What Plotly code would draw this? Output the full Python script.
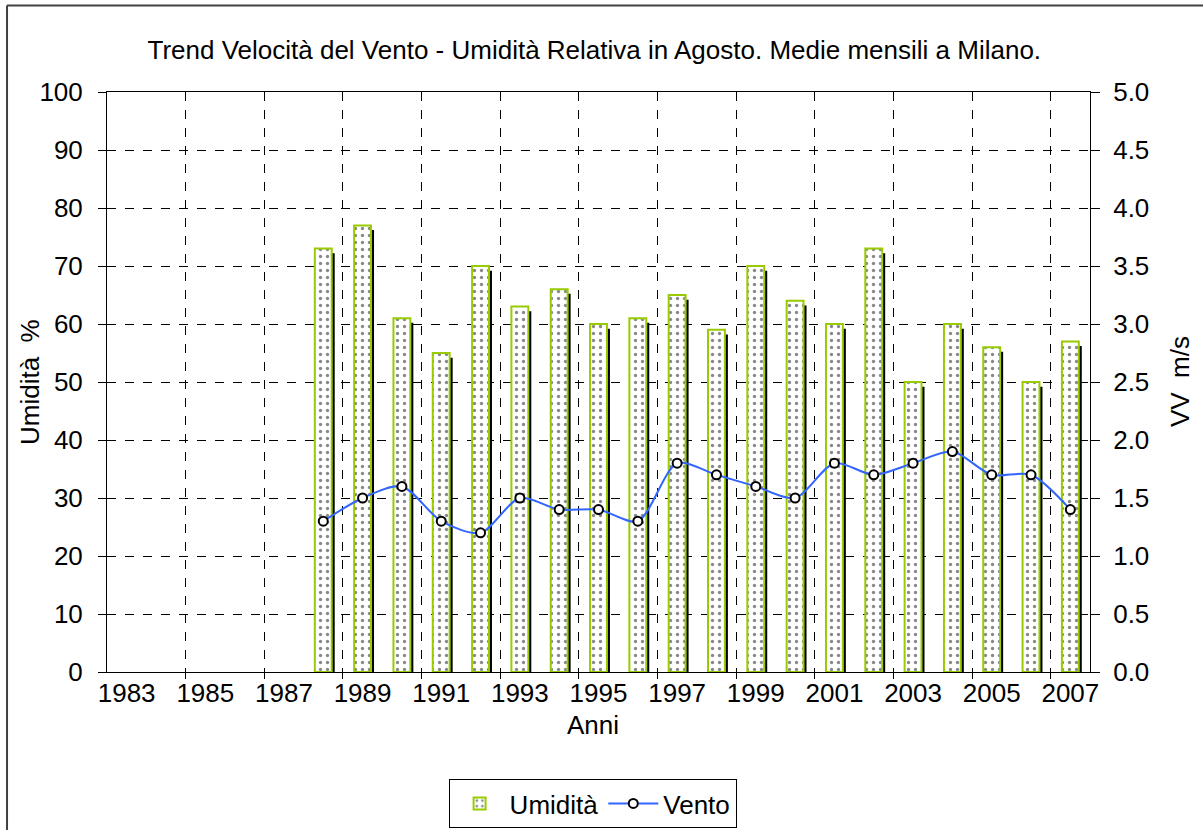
import plotly.graph_objects as go

years = list(range(1988, 2008))
umidita = [73, 77, 61, 55, 70, 63, 66, 60, 61, 65, 59, 70, 64, 60, 73, 50, 60, 56, 50, 57]
vento = [1.3, 1.5, 1.6, 1.3, 1.2, 1.5, 1.4, 1.4, 1.3, 1.8, 1.7, 1.6, 1.5, 1.8, 1.7, 1.8, 1.9, 1.7, 1.7, 1.4]
tick_years = list(range(1983, 2008, 2))

title_text = "Trend Velocità del Vento - Umidità Relativa in Agosto. Medie mensili a Milano."
x_title = "Anni"
y_title = "Umidità  %"
y2_title = "VV  m/s"
FONT = "Liberation Sans, Arial, sans-serif"
FS = 26

bar_w = 0.43
shadow_dx = 0.076
shadow_dy = 0.8

fig = go.Figure()

# shadow bars
fig.add_trace(go.Bar(
    x=[y + shadow_dx for y in years], y=[v - shadow_dy for v in umidita],
    width=bar_w, marker=dict(color="black", line=dict(width=0)),
    showlegend=False, hoverinfo="skip", yaxis="y"))

fig.add_trace(go.Bar(
    x=years, y=umidita, width=bar_w, name="Umidità",
    marker=dict(color="white",
                line=dict(color="#99CC00", width=2),
                pattern=dict(shape=".", fgcolor="#111111", bgcolor="white",
                             size=7, solidity=0.18)),
    yaxis="y"))

fig.add_trace(go.Scatter(
    x=years, y=vento, name="Vento", mode="lines+markers",
    line=dict(color="#3366FF", width=2, shape="spline", smoothing=0.8),
    marker=dict(symbol="circle", size=9, color="white",
                line=dict(color="black", width=2)),
    yaxis="y2"))

fig.update_layout(
    width=1203, height=830,
    paper_bgcolor="white", plot_bgcolor="white",
    margin=dict(l=107, r=113, t=92, b=158, autoexpand=False),
    barmode="overlay",
    font=dict(family=FONT, size=FS, color="black"),
    title=dict(text=title_text, x=0.494, xanchor="center", y=1 - 50 / 830,
               yanchor="middle", font=dict(size=FS, family=FONT)),
    xaxis=dict(range=[1982.5, 2007.5], tickmode="array", tickvals=tick_years,
               ticktext=[str(y) for y in tick_years], ticks="", ticklen=0,
               showgrid=False, automargin=False,
               showline=True, linecolor="black", linewidth=1, mirror=True,
               zeroline=False, tickfont=dict(size=FS), ticklabelstandoff=-2,
               minor=dict(tickmode="array",
                          tickvals=[y + 0.5 for y in range(1984, 2007, 2)],
                          ticks="outside", ticklen=6, tickcolor="black",
                          showgrid=True, gridcolor="black", griddash="dash",
                          gridwidth=1)),
    yaxis=dict(range=[0, 100], dtick=10, tick0=0, ticks="outside", ticklen=8,
               tickcolor="black", showline=True, linecolor="black", linewidth=1,
               mirror=False, showgrid=True, gridcolor="black", griddash="dash",
               gridwidth=1, zeroline=False, tickfont=dict(size=FS),
               ticklabelstandoff=10, automargin=False),
    yaxis2=dict(range=[0, 5], dtick=0.5, tick0=0, tickformat=".1f",
                overlaying="y", side="right", ticks="outside", ticklen=9,
                tickcolor="black", showline=True, linecolor="black", linewidth=1,
                showgrid=False, zeroline=False, tickfont=dict(size=FS),
                ticklabelstandoff=8, automargin=False),
    legend=dict(orientation="h", x=0.494, xanchor="center", y=-0.1845, yanchor="top",
                bordercolor="black", borderwidth=1, bgcolor="white",
                font=dict(size=FS), traceorder="normal",
                itemwidth=50, tracegroupgap=0),
    annotations=[
        dict(text=x_title, xref="paper", yref="paper", x=0.494, y=-0.0914,
             xanchor="center", yanchor="middle", showarrow=False,
             font=dict(size=FS)),
        dict(text=y_title, xref="paper", yref="paper", x=-0.0783, y=0.5,
             xanchor="center", yanchor="middle", showarrow=False, textangle=-90,
             font=dict(size=FS)),
        dict(text=y2_title, xref="paper", yref="paper", x=1.0916, y=0.5,
             xanchor="center", yanchor="middle", showarrow=False, textangle=-90,
             font=dict(size=FS)),
    ],
    shapes=[
        dict(type="line", xref="paper", yref="paper",
             x0=-0.1017, x1=-0.1017, y0=1.149, y1=-0.3,
             line=dict(color="#404040", width=2)),
        dict(type="line", xref="paper", yref="paper",
             x0=-0.1017, x1=1.2, y0=1.149, y1=1.149,
             line=dict(color="#404040", width=2)),
    ],
)

fig.write_html("out.html", config={"displayModeBar": False},
               post_script="document.body.style.margin='0';")
